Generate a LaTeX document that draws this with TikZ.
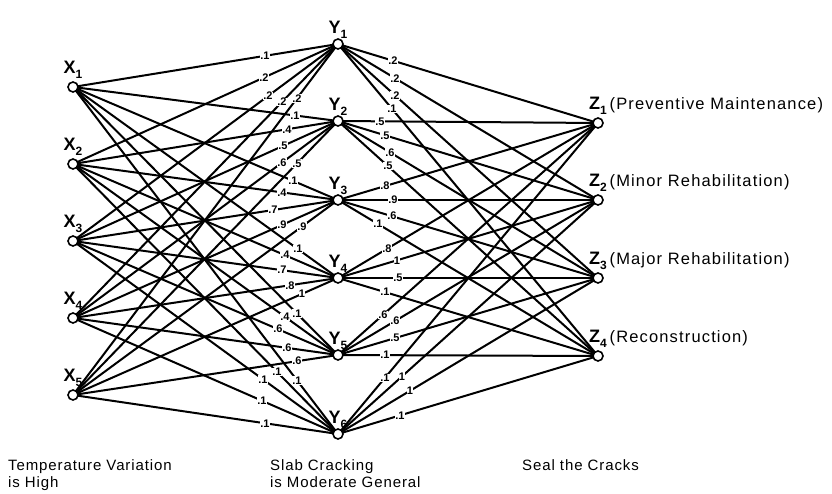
\documentclass[tikz,border=0pt]{standalone}
\usepackage{fontspec}
\setmainfont{Liberation Sans}
\usetikzlibrary{calc}
\pgfdeclarelayer{edges}
\pgfsetlayers{edges,main}
% subscript for the unit names
\newcommand{\vsub}[1]{\raisebox{-0.3em}{\fontsize{12}{12}\selectfont #1}}
\begin{document}
\begin{tikzpicture}[x=1pt,y=-1pt,
  unit/.style={circle,draw,line width=1.6pt,fill=white,minimum size=10pt,inner sep=0pt},
  link/.style={line width=2pt},
  wt/.style={font=\fontsize{11}{11}\selectfont\bfseries,fill=white,inner sep=0.4pt},
  vname/.style={font=\fontsize{18}{18}\selectfont\bfseries,inner sep=0pt},
  zname/.style={font=\fontsize{16.5}{18}\selectfont\addfontfeature{LetterSpace=7},inner sep=0pt,anchor=south west},
  caption/.style={font=\fontsize{15}{17.5}\selectfont\addfontfeature{LetterSpace=6},align=left,anchor=north west,inner sep=0pt}]
\useasboundingbox (0,0) rectangle (832,494);

% input, hidden and output units
\foreach \i/\yy in {1/87,2/164,3/241,4/318,5/395}
  \node[unit] (x\i) at (73,\yy) {};
\foreach \j/\yy in {1/44,2/121,3/200,4/278,5/355,6/434}
  \node[unit] (y\j) at (338,\yy) {};
\foreach \k/\yy in {1/123,2/200,3/278,4/356}
  \node[unit] (z\k) at (598,\yy) {};

% unit names
\foreach \i in {1,...,5}
  \node[vname,above=8pt] at (x\i) {X\vsub{\i}};
\foreach \j in {1,...,6}
  \node[vname,above=5pt] at (y\j) {Y\vsub{\j}};
\foreach \k/\txt in {1/Preventive Maintenance,2/Minor Rehabilitation,3/Major Rehabilitation,4/Reconstruction}
  \node[zname] at ($(z\k)+(-9,-8)$) {{\fontsize{18}{18}\selectfont\bfseries Z\vsub{\k}}\,(\txt)};

% connections
\begin{pgfonlayer}{edges}
\foreach \i in {1,...,5}
  \foreach \j in {1,...,6}
    \draw[link] (x\i.center) -- (y\j.center);
\foreach \j in {1,...,6}
  \foreach \k in {1,...,4}
    \draw[link] (y\j.center) -- (z\k.center);
\end{pgfonlayer}

% weights of the first layer: X index / Y index / horizontal distance from Y / value
\foreach \i/\j/\d/\w in {
  1/1/73/.1, 2/1/74/.2, 3/1/70/.2, 4/1/56/.2, 5/1/41/.2,
  1/2/43/.1, 2/2/51/.4, 3/2/55/.5, 4/2/56/.6, 5/2/41/.5,
  1/3/45/.1, 2/3/56/.4, 3/3/65/.7, 4/3/56/.9, 5/3/36/.9,
  1/4/40/.1, 2/4/53/.4, 3/4/56/.7, 4/4/48/.8, 5/4/36/1,
  1/5/41/.1, 2/5/53/.4, 3/5/60/.6, 4/5/51/.6, 5/5/41/.6,
  1/6/41/.1, 2/6/61/.1, 3/6/75/.1, 4/6/76/.1, 5/6/73/.1}
{
  \pgfmathsetmacro\p{1-\d/265}
  \path (x\i.center) -- (y\j.center) node[wt,pos=\p] {\w};
}

% weights of the second layer: Y index / Z index / horizontal distance from Y / value
\foreach \j/\k/\d/\w in {
  1/1/55/.2, 1/2/57/.2, 1/3/57/.2, 1/4/54/.1,
  2/1/42/.5, 2/2/47/.5, 2/3/52/.6, 2/4/50/.5,
  3/1/47/.8, 3/2/55/.9, 3/3/54/.6, 3/4/40/.1,
  4/1/49/.8, 4/2/59/1, 4/3/60/.5, 4/4/47/.1,
  5/1/45/.6, 5/2/57/.6, 5/3/57/.5, 5/4/47/.1,
  6/1/47/.1, 6/2/64/1, 6/3/72/1, 6/4/62/.1}
{
  \pgfmathsetmacro\p{\d/260}
  \path (y\j.center) -- (z\k.center) node[wt,pos=\p] {\w};
}

% layer captions
\node[caption] (capx) at (8,459) {Temperature Variation\\is High};
\node[caption] (capy) at (270,459) {Slab Cracking\\is Moderate General};
\node[caption] (capz) at (522,459) {Seal the Cracks};
\end{tikzpicture}
\end{document}
